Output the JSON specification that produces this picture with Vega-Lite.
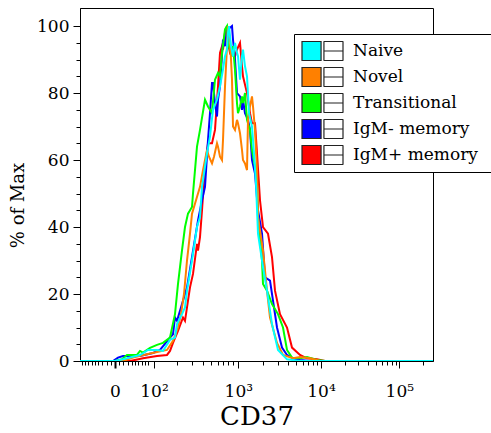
{
  "$schema": "https://vega.github.io/schema/vega-lite/v6.json",
  "autosize": "none",
  "width": 353,
  "height": 353,
  "padding": {"left": 80, "top": 8, "right": 58, "bottom": 72},
  "background": "white",
  "config": {
    "view": {"stroke": "black", "strokeWidth": 1},
    "axis": {"grid": false, "domainColor": "black", "tickColor": "black", "labelColor": "black", "titleColor": "black", "labelFont": "DejaVu Serif", "titleFont": "DejaVu Serif", "titleFontWeight": "normal"}
  },
  "data": {"values": [
    {"s":"IgM+ memory","c":0,"v":0},{"s":"IgM+ memory","c":150,"v":0},{"s":"IgM+ memory","c":189,"v":0.8},{"s":"IgM+ memory","c":231,"v":1.5},{"s":"IgM+ memory","c":261,"v":1.8},{"s":"IgM+ memory","c":270,"v":3},{"s":"IgM+ memory","c":279,"v":5.4},{"s":"IgM+ memory","c":294,"v":9},{"s":"IgM+ memory","c":309,"v":13},{"s":"IgM+ memory","c":315,"v":12},{"s":"IgM+ memory","c":324,"v":18},{"s":"IgM+ memory","c":330,"v":22},{"s":"IgM+ memory","c":339,"v":26},{"s":"IgM+ memory","c":351,"v":35},{"s":"IgM+ memory","c":354,"v":33},{"s":"IgM+ memory","c":360,"v":37},{"s":"IgM+ memory","c":366,"v":45},{"s":"IgM+ memory","c":375,"v":58},{"s":"IgM+ memory","c":384,"v":65},{"s":"IgM+ memory","c":396,"v":65},{"s":"IgM+ memory","c":405,"v":69},{"s":"IgM+ memory","c":414,"v":82},{"s":"IgM+ memory","c":420,"v":92},{"s":"IgM+ memory","c":426,"v":94},{"s":"IgM+ memory","c":429,"v":93},{"s":"IgM+ memory","c":435,"v":98},{"s":"IgM+ memory","c":441,"v":100},{"s":"IgM+ memory","c":444,"v":95},{"s":"IgM+ memory","c":450,"v":92},{"s":"IgM+ memory","c":459,"v":93},{"s":"IgM+ memory","c":465,"v":91},{"s":"IgM+ memory","c":471,"v":93},{"s":"IgM+ memory","c":480,"v":95},{"s":"IgM+ memory","c":486,"v":88},{"s":"IgM+ memory","c":489,"v":85},{"s":"IgM+ memory","c":501,"v":80},{"s":"IgM+ memory","c":510,"v":74},{"s":"IgM+ memory","c":516,"v":71},{"s":"IgM+ memory","c":525,"v":71},{"s":"IgM+ memory","c":531,"v":62},{"s":"IgM+ memory","c":540,"v":48},{"s":"IgM+ memory","c":549,"v":40},{"s":"IgM+ memory","c":564,"v":38},{"s":"IgM+ memory","c":576,"v":31},{"s":"IgM+ memory","c":585,"v":21},{"s":"IgM+ memory","c":600,"v":14},{"s":"IgM+ memory","c":621,"v":10},{"s":"IgM+ memory","c":636,"v":4},{"s":"IgM+ memory","c":660,"v":1.8},{"s":"IgM+ memory","c":681,"v":0.8},{"s":"IgM+ memory","c":711,"v":0.5},{"s":"IgM+ memory","c":735,"v":0},{"s":"IgM+ memory","c":1059,"v":0},
    {"s":"IgM- memory","c":0,"v":0},{"s":"IgM- memory","c":99,"v":0},{"s":"IgM- memory","c":114,"v":1},{"s":"IgM- memory","c":129,"v":1.5},{"s":"IgM- memory","c":180,"v":1.5},{"s":"IgM- memory","c":219,"v":2.4},{"s":"IgM- memory","c":240,"v":3.3},{"s":"IgM- memory","c":270,"v":7},{"s":"IgM- memory","c":279,"v":8},{"s":"IgM- memory","c":285,"v":13},{"s":"IgM- memory","c":291,"v":12},{"s":"IgM- memory","c":300,"v":15},{"s":"IgM- memory","c":306,"v":17},{"s":"IgM- memory","c":321,"v":22},{"s":"IgM- memory","c":336,"v":31},{"s":"IgM- memory","c":354,"v":42},{"s":"IgM- memory","c":366,"v":48},{"s":"IgM- memory","c":375,"v":52},{"s":"IgM- memory","c":384,"v":66},{"s":"IgM- memory","c":390,"v":74},{"s":"IgM- memory","c":396,"v":83},{"s":"IgM- memory","c":399,"v":83},{"s":"IgM- memory","c":405,"v":77},{"s":"IgM- memory","c":411,"v":73},{"s":"IgM- memory","c":414,"v":78},{"s":"IgM- memory","c":420,"v":82},{"s":"IgM- memory","c":429,"v":96},{"s":"IgM- memory","c":435,"v":94},{"s":"IgM- memory","c":441,"v":99},{"s":"IgM- memory","c":450,"v":99.5},{"s":"IgM- memory","c":456,"v":100},{"s":"IgM- memory","c":459,"v":96},{"s":"IgM- memory","c":465,"v":90},{"s":"IgM- memory","c":471,"v":80},{"s":"IgM- memory","c":480,"v":79},{"s":"IgM- memory","c":486,"v":75},{"s":"IgM- memory","c":489,"v":78},{"s":"IgM- memory","c":495,"v":74},{"s":"IgM- memory","c":504,"v":72},{"s":"IgM- memory","c":510,"v":69},{"s":"IgM- memory","c":516,"v":60},{"s":"IgM- memory","c":525,"v":56},{"s":"IgM- memory","c":534,"v":45},{"s":"IgM- memory","c":546,"v":38},{"s":"IgM- memory","c":555,"v":25},{"s":"IgM- memory","c":570,"v":24},{"s":"IgM- memory","c":579,"v":18},{"s":"IgM- memory","c":591,"v":10},{"s":"IgM- memory","c":606,"v":4},{"s":"IgM- memory","c":621,"v":1.8},{"s":"IgM- memory","c":639,"v":0.8},{"s":"IgM- memory","c":660,"v":0.3},{"s":"IgM- memory","c":690,"v":0},{"s":"IgM- memory","c":1059,"v":0},
    {"s":"Transitional","c":0,"v":0},{"s":"Transitional","c":105,"v":0},{"s":"Transitional","c":126,"v":0.5},{"s":"Transitional","c":141,"v":1.8},{"s":"Transitional","c":171,"v":1.8},{"s":"Transitional","c":180,"v":3},{"s":"Transitional","c":189,"v":2.5},{"s":"Transitional","c":210,"v":3.9},{"s":"Transitional","c":231,"v":4.8},{"s":"Transitional","c":249,"v":5.4},{"s":"Transitional","c":270,"v":7},{"s":"Transitional","c":285,"v":14},{"s":"Transitional","c":294,"v":23},{"s":"Transitional","c":306,"v":33},{"s":"Transitional","c":315,"v":40},{"s":"Transitional","c":324,"v":44},{"s":"Transitional","c":336,"v":46},{"s":"Transitional","c":339,"v":50},{"s":"Transitional","c":351,"v":64},{"s":"Transitional","c":360,"v":69},{"s":"Transitional","c":375,"v":78},{"s":"Transitional","c":384,"v":76},{"s":"Transitional","c":396,"v":74},{"s":"Transitional","c":405,"v":84},{"s":"Transitional","c":414,"v":86},{"s":"Transitional","c":420,"v":85},{"s":"Transitional","c":426,"v":92},{"s":"Transitional","c":435,"v":99},{"s":"Transitional","c":441,"v":100},{"s":"Transitional","c":444,"v":95},{"s":"Transitional","c":456,"v":91},{"s":"Transitional","c":459,"v":94},{"s":"Transitional","c":465,"v":87},{"s":"Transitional","c":471,"v":77},{"s":"Transitional","c":474,"v":74},{"s":"Transitional","c":480,"v":76},{"s":"Transitional","c":486,"v":79},{"s":"Transitional","c":489,"v":77},{"s":"Transitional","c":495,"v":80},{"s":"Transitional","c":501,"v":72},{"s":"Transitional","c":510,"v":69},{"s":"Transitional","c":516,"v":63},{"s":"Transitional","c":525,"v":58},{"s":"Transitional","c":531,"v":55},{"s":"Transitional","c":534,"v":43},{"s":"Transitional","c":546,"v":30},{"s":"Transitional","c":549,"v":23},{"s":"Transitional","c":561,"v":21},{"s":"Transitional","c":576,"v":17},{"s":"Transitional","c":594,"v":14},{"s":"Transitional","c":609,"v":10},{"s":"Transitional","c":621,"v":3.3},{"s":"Transitional","c":636,"v":1},{"s":"Transitional","c":660,"v":0.8},{"s":"Transitional","c":681,"v":1.2},{"s":"Transitional","c":711,"v":0.3},{"s":"Transitional","c":735,"v":0},{"s":"Transitional","c":1059,"v":0},
    {"s":"Novel","c":0,"v":0},{"s":"Novel","c":129,"v":0},{"s":"Novel","c":159,"v":1},{"s":"Novel","c":201,"v":2},{"s":"Novel","c":231,"v":2.7},{"s":"Novel","c":261,"v":3.3},{"s":"Novel","c":279,"v":6},{"s":"Novel","c":294,"v":10},{"s":"Novel","c":303,"v":14},{"s":"Novel","c":312,"v":20},{"s":"Novel","c":321,"v":30},{"s":"Novel","c":330,"v":38},{"s":"Novel","c":336,"v":44},{"s":"Novel","c":348,"v":48},{"s":"Novel","c":360,"v":52},{"s":"Novel","c":369,"v":57},{"s":"Novel","c":381,"v":63},{"s":"Novel","c":387,"v":61},{"s":"Novel","c":396,"v":59},{"s":"Novel","c":402,"v":61},{"s":"Novel","c":411,"v":65},{"s":"Novel","c":414,"v":64},{"s":"Novel","c":420,"v":61},{"s":"Novel","c":426,"v":60},{"s":"Novel","c":429,"v":66},{"s":"Novel","c":435,"v":82},{"s":"Novel","c":441,"v":94},{"s":"Novel","c":444,"v":100},{"s":"Novel","c":450,"v":96},{"s":"Novel","c":456,"v":84},{"s":"Novel","c":459,"v":70},{"s":"Novel","c":465,"v":69},{"s":"Novel","c":471,"v":72},{"s":"Novel","c":474,"v":71},{"s":"Novel","c":480,"v":68},{"s":"Novel","c":486,"v":63},{"s":"Novel","c":489,"v":60},{"s":"Novel","c":495,"v":59},{"s":"Novel","c":501,"v":57},{"s":"Novel","c":504,"v":72},{"s":"Novel","c":510,"v":76},{"s":"Novel","c":516,"v":79},{"s":"Novel","c":519,"v":76},{"s":"Novel","c":525,"v":69},{"s":"Novel","c":531,"v":57},{"s":"Novel","c":534,"v":43},{"s":"Novel","c":549,"v":33},{"s":"Novel","c":561,"v":21},{"s":"Novel","c":570,"v":13},{"s":"Novel","c":591,"v":5.4},{"s":"Novel","c":609,"v":1.8},{"s":"Novel","c":639,"v":0.8},{"s":"Novel","c":660,"v":1.2},{"s":"Novel","c":690,"v":0.8},{"s":"Novel","c":720,"v":0},{"s":"Novel","c":1059,"v":0},
    {"s":"Naive","c":0,"v":0},{"s":"Naive","c":105,"v":0},{"s":"Naive","c":129,"v":0.5},{"s":"Naive","c":180,"v":1.8},{"s":"Naive","c":204,"v":3.3},{"s":"Naive","c":231,"v":3.3},{"s":"Naive","c":249,"v":3},{"s":"Naive","c":270,"v":6.3},{"s":"Naive","c":285,"v":7},{"s":"Naive","c":291,"v":11},{"s":"Naive","c":306,"v":14},{"s":"Naive","c":315,"v":16},{"s":"Naive","c":321,"v":21},{"s":"Naive","c":336,"v":30},{"s":"Naive","c":351,"v":40},{"s":"Naive","c":360,"v":43},{"s":"Naive","c":366,"v":52},{"s":"Naive","c":381,"v":62},{"s":"Naive","c":390,"v":67},{"s":"Naive","c":399,"v":75},{"s":"Naive","c":411,"v":78},{"s":"Naive","c":420,"v":82},{"s":"Naive","c":429,"v":87},{"s":"Naive","c":435,"v":91},{"s":"Naive","c":441,"v":93},{"s":"Naive","c":444,"v":98},{"s":"Naive","c":447,"v":100},{"s":"Naive","c":453,"v":94},{"s":"Naive","c":459,"v":91},{"s":"Naive","c":465,"v":95},{"s":"Naive","c":471,"v":92},{"s":"Naive","c":474,"v":91},{"s":"Naive","c":480,"v":84},{"s":"Naive","c":486,"v":91},{"s":"Naive","c":489,"v":93},{"s":"Naive","c":495,"v":88},{"s":"Naive","c":501,"v":85},{"s":"Naive","c":507,"v":74},{"s":"Naive","c":516,"v":70},{"s":"Naive","c":522,"v":62},{"s":"Naive","c":528,"v":53},{"s":"Naive","c":534,"v":38},{"s":"Naive","c":549,"v":28},{"s":"Naive","c":561,"v":21},{"s":"Naive","c":576,"v":11},{"s":"Naive","c":594,"v":3.3},{"s":"Naive","c":621,"v":0.5},{"s":"Naive","c":660,"v":0},{"s":"Naive","c":1059,"v":0}
  ]},
  "encoding": {
    "x": {
      "field": "c", "type": "quantitative",
      "scale": {"domain": [0, 1059], "nice": false, "zero": false},
      "axis": {
        "title": "CD37", "titleFontSize": 26, "titleY": 63, "titleBaseline": "alphabetic",
        "values": [5,15,25,35,45,55,67,80,92,105,118,130,143,155,165,175,185,195,205,222,290,335,368,393,413,430,445,458,475,550,593,624,648,668,685,699,712,723,795,835,864,887,906,922,936,948,958,1030],
        "labelExpr": "datum.value == 105 ? '0' : datum.value == 222 ? '10²' : datum.value == 475 ? '10³' : datum.value == 723 ? '10⁴' : datum.value == 958 ? '10⁵' : ''",
        "labelOverlap": false, "labelFontSize": 17, "labelPadding": 15, "labelFlush": false,
        "tickSize": {"condition": {"test": "indexof([105,222,475,723,958], datum.value) >= 0", "value": 7}, "value": 4},
        "tickWidth": {"condition": {"test": "datum.value == 105", "value": 2}, "value": 1}
      }
    },
    "y": {
      "field": "v", "type": "quantitative",
      "scale": {"domain": [0, 105.4], "nice": false},
      "axis": {
        "title": "% of Max", "titleFontSize": 18, "titleX": -62, "titleY": 197, "titleAngle": -90, "titleAlign": "center", "titleBaseline": "middle",
        "values": [0,5,10,15,20,25,30,35,40,45,50,55,60,65,70,75,80,85,90,95,100],
        "labelExpr": "datum.value % 20 == 0 ? datum.label : ''",
        "labelOverlap": false, "labelFontSize": 17, "labelPadding": 4,
        "tickSize": {"condition": {"test": "datum.value % 20 == 0", "value": 7}, "value": 4}
      }
    }
  },
  "layer": [
    {
      "mark": {"type": "line", "strokeWidth": 2, "clip": true},
      "encoding": {
        "stroke": {
          "field": "s", "type": "nominal", "legend": null,
          "scale": {"domain": ["Naive","Novel","Transitional","IgM- memory","IgM+ memory"], "range": ["#00FFFF","#FF8000","#00FF00","#0000FF","#FF0000"]}
        }
      }
    },
    {
      "mark": {"type": "point", "filled": true, "size": 0, "opacity": 0},
      "encoding": {
        "fill": {
          "field": "s", "type": "nominal",
          "scale": {"domain": ["Naive","Novel","Transitional","IgM- memory","IgM+ memory"], "range": ["#00FFFF","#FF8000","#00FF00","#0000FF","#FF0000"]},
          "legend": {
            "title": null, "orient": "none", "legendX": 214, "legendY": 26,
            "strokeColor": "black", "fillColor": "white", "padding": 7,
            "symbolType": "M-1,-0.47H-0.07V0.47H-1Z M0.07,-0.47H1 M1,-0.47V0.47 M1,0.47H0.07 M0.07,0.47V-0.47 M0.07,0H1",
            "symbolSize": 1681, "symbolStrokeWidth": 1.2, "symbolStrokeColor": "#222", "symbolOpacity": 1,
            "labelFont": "DejaVu Serif", "labelFontSize": 17, "labelColor": "black", "labelOffset": 9, "labelLimit": 400,
            "labelExpr": "datum.label + '\u2800'",
            "clipHeight": 20, "rowPadding": 6
          }
        }
      }
    }
  ],
  "resolve": {"scale": {"stroke": "independent"}}
}
